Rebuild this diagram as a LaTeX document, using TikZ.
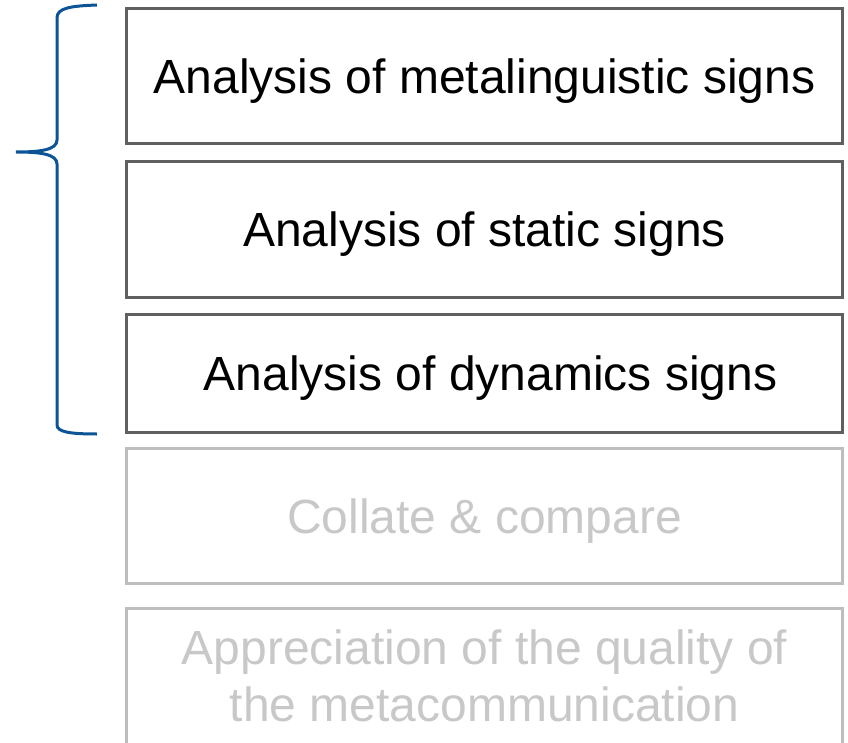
\documentclass[tikz,border=0pt]{standalone}
\usepackage{fontspec}
\setmainfont{Liberation Sans}
\definecolor{bracecol}{RGB}{12,84,150}
\definecolor{darkedge}{RGB}{96,96,96}
\definecolor{lightedge}{RGB}{190,190,190}
\definecolor{lighttext}{RGB}{200,200,200}
\begin{document}
\begin{tikzpicture}[x=1pt,y=-1pt,
  stagebox/.style={draw=darkedge, line width=3pt, minimum width=716pt, inner sep=0pt,
    align=center, font=\fontsize{48}{57}\selectfont, text=black, text depth=0pt},
  fadedbox/.style={stagebox, draw=lightedge, text=lighttext}]
\useasboundingbox (0,0) rectangle (848,743);
\begin{scope}
\clip (0,0) rectangle (848,743);
\node[stagebox, minimum height=135.5pt] (meta) at (484.5,76.25) {Analysis of metalinguistic signs};
\node[stagebox, minimum height=136pt] (static) at (484.5,229.25) {Analysis of static signs};
\node[stagebox, minimum height=118pt] (dyn) at (484.5,373.25) {\hspace*{12pt}Analysis of dynamics signs};
\node[fadedbox, minimum height=135pt] (collate) at (484.5,516.25) {Collate \& compare};
\node[fadedbox, minimum height=140pt, text depth=4pt] (apprec) at (484.5,678) {Appreciation of the quality of\\the metacommunication};
\end{scope}
% curly brace grouping the three analysis stages
\draw[bracecol, line width=3pt]
  (97,5) .. controls (70,6) and (57,8) .. (57,18) -- (57,140)
  .. controls (57,150) and (40,152) .. (16,152)
  .. controls (40,152) and (57,154) .. (57,164) -- (57,425)
  .. controls (57,432) and (70,434) .. (97,434);
\end{tikzpicture}
\end{document}
